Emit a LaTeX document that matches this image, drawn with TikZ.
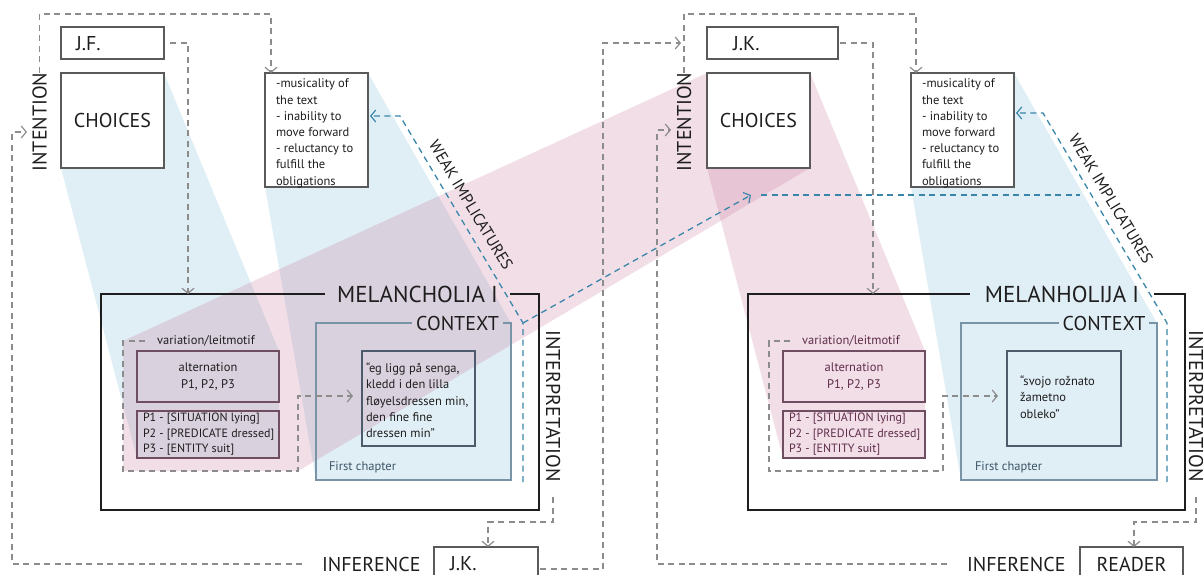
\documentclass[tikz,border=0pt]{standalone}
\usepackage{fontspec}
\setmainfont{PT Sans}
\usetikzlibrary{arrows.meta,backgrounds}

\definecolor{dashgray}{HTML}{8C8C8C}
\definecolor{boxline}{HTML}{5A5A5A}
\definecolor{implblue}{HTML}{3A86AA}
\definecolor{ctxline}{HTML}{7894A6}
\definecolor{quoteline}{HTML}{4C5C6C}
\definecolor{altline}{HTML}{6E4E60}
\definecolor{frameline}{HTML}{1E1E1E}
\definecolor{bandblue}{RGB}{110,175,210}
\definecolor{bandpink}{RGB}{200,120,155}
\definecolor{ink}{HTML}{1E1E1E}
\definecolor{mauveink}{HTML}{5E2C4A}
\definecolor{chapterink}{HTML}{3C5466}

\newcommand{\dgHead}{\fontsize{20}{24}\selectfont}
\newcommand{\dgTitle}{\fontsize{23}{27}\selectfont}
\newcommand{\dgBody}{\fontsize{12.5}{16.2}\selectfont}
\newcommand{\dgList}{\fontsize{12}{15.5}\selectfont}
\newcommand{\dgSlant}{\fontsize{16}{19}\selectfont}

\tikzset{
  every node/.style={inner sep=0pt, outer sep=0pt, text=ink},
  flowdash/.style={draw=dashgray, line width=1.2pt, dash pattern=on 6pt off 4.5pt},
  impldash/.style={draw=implblue, line width=1.3pt, dash pattern=on 6pt off 4.5pt},
  barbtip/.style={-{Straight Barb[length=5pt,width=12pt,line width=1.2pt]}},
  whitebox/.style={draw=boxline, line width=1.1pt, fill=white},
  quotebox/.style={draw=quoteline, line width=1.1pt},
  altbox/.style={draw=altline, line width=1.1pt},
  region/.style={draw=none},
  framepath/.style={draw=frameline, line width=1.7pt},
  ctxpath/.style={draw=ctxline, line width=1.1pt},
  bluesheet/.style={fill=bandblue, fill opacity=0.21},
  pinksheet/.style={fill=bandpink, fill opacity=0.245},
}

\begin{document}
\begin{tikzpicture}[x=1pt,y=-1pt]
\useasboundingbox (0,0) rectangle (1203,574);

% ================= left half: author J.F. =================
\node[whitebox, minimum width=103pt, minimum height=32pt] (jfL) at (112.5,43) {};
\node[anchor=west, font=\dgHead] (jfLtext) at (76,44) {J.F.};
\node[whitebox, minimum width=103pt, minimum height=95pt, font=\dgHead] (choL) at (112.5,120.5) {CHOICES};
\node[font=\dgHead, rotate=90] (intL) at (39.5,122) {INTENTION};

\node[whitebox, minimum width=103pt, minimum height=114pt] (weakL) at (316.5,130) {};
\node[anchor=north west, align=left, font=\dgBody] (weakLtext) at (276,79)
  {-musicality of\\the text\\- inability to\\move forward\\- reluctancy to\\fulfill the\\obligations};

% work frame
\node[region, minimum width=438pt, minimum height=216pt] (frameL) at (320,402) {};
\node[font=\dgTitle, inner xsep=12pt] (melL) at (417.5,294) {MELANCHOLIA I};
\draw[framepath] (melL.west) -- (frameL.north west) -- (frameL.south west)
  -- (frameL.south east) -- (frameL.north east) -- (melL.east);

% context
\node[region, minimum width=195pt, minimum height=157pt] (ctxL) at (413.5,401.5) {};
\node[font=\dgHead, inner xsep=4pt] (ctxLtitle) at (457.5,323) {CONTEXT};
\draw[ctxpath] (ctxLtitle.west) -- (ctxL.north west) -- (ctxL.south west)
  -- (ctxL.south east) -- (ctxL.north east) -- (ctxLtitle.east);
\node[quotebox, minimum width=113pt, minimum height=95pt] (quoteL) at (418.5,398.5) {};
\node[anchor=north west, align=left, font=\dgBody] (quoteLtext) at (366,363)
  {“eg ligg på senga,\\kledd i den lilla\\fløyelsdressen min,\\den fine fine\\dressen min”};
\node[anchor=west, font=\dgBody, text=chapterink] (chapL) at (329,467) {First chapter};

% variation / leitmotif
\node[region, minimum width=175pt, minimum height=130pt] (varL) at (210.5,406) {};
\node[font=\dgBody, inner xsep=12pt] (varLtitle) at (206,341) {variation/leitmotif};
\node[altbox, minimum width=142pt, minimum height=51pt, align=center, font=\dgBody] (altL) at (208,376.5) {alternation\\P1, P2, P3};
\node[altbox, minimum width=142pt, minimum height=47pt] (pL) at (208,434.5) {};
\node[anchor=north west, align=left, font=\dgList] (pLtext) at (143,413)
  {P1 - [SITUATION lying]\\P2 - [PREDICATE dressed]\\P3 - [ENTITY suit]};
\coordinate (varLturn) at (298,396);
\draw[flowdash, barbtip, shorten >=9pt] (varLtitle.west) -- (varL.north west) -- (varL.south west)
  -- (varL.south east) -- (varLturn) -- (varLturn -| quoteL.west);

\node[font=\dgHead, rotate=-90] (intpL) at (553,406) {INTERPRETATION};
\node[font=\dgSlant, rotate=-59] (wiL) at (471,205) {WEAK IMPLICATURES};

% reception by the translator
\node[font=\dgHead, anchor=west] (infL) at (322,564) {INFERENCE};
\node[whitebox, minimum width=104pt, minimum height=44pt] (jkB) at (486,569) {};
\node[font=\dgHead, anchor=west] (jkBtext) at (450,564) {J.K.};

% ================= right half: translator J.K. =================
\node[whitebox, minimum width=131pt, minimum height=32pt] (jkR) at (772.5,43) {};
\node[anchor=west, font=\dgHead] (jkRtext) at (733,44) {J.K.};
\node[whitebox, minimum width=103pt, minimum height=95pt, font=\dgHead] (choR) at (758.5,120.5) {CHOICES};
\node[font=\dgHead, rotate=90] (intR) at (684,122) {INTENTION};

\node[whitebox, minimum width=103pt, minimum height=114pt] (weakR) at (962.5,130) {};
\node[anchor=north west, align=left, font=\dgBody] (weakRtext) at (922,79)
  {-musicality of\\the text\\- inability to\\move forward\\- reluctancy to\\fulfill the\\obligations};

\node[region, minimum width=437pt, minimum height=216pt] (frameR) at (966.5,402) {};
\node[font=\dgTitle, inner xsep=15pt] (melR) at (1062,294) {MELANHOLIJA I};
\draw[framepath] (melR.west) -- (frameR.north west) -- (frameR.south west)
  -- (frameR.south east) -- (frameR.north east) -- (melR.east);

\node[region, minimum width=196pt, minimum height=157pt] (ctxR) at (1059,401.5) {};
\node[font=\dgHead, inner xsep=4pt] (ctxRtitle) at (1104,323) {CONTEXT};
\draw[ctxpath] (ctxRtitle.west) -- (ctxR.north west) -- (ctxR.south west)
  -- (ctxR.south east) -- (ctxR.north east) -- (ctxRtitle.east);
\node[quotebox, minimum width=114pt, minimum height=95pt] (quoteR) at (1064,398.5) {};
\node[anchor=north west, align=left, font=\dgBody] (quoteRtext) at (1020,376)
  {“svojo rožnato\\žametno\\obleko”};
\node[anchor=west, font=\dgBody, text=chapterink] (chapR) at (975,467) {First chapter};

\node[region, minimum width=174pt, minimum height=130pt] (varR) at (856,406) {};
\node[font=\dgBody, inner xsep=12pt, text=mauveink] (varRtitle) at (851,341) {variation/leitmotif};
\node[altbox, minimum width=142pt, minimum height=51pt, align=center, font=\dgBody, text=mauveink] (altR) at (854,376.5) {alternation\\P1, P2, P3};
\node[altbox, minimum width=142pt, minimum height=47pt] (pR) at (854,434.5) {};
\node[anchor=north west, align=left, font=\dgList, text=mauveink] (pRtext) at (789,413)
  {P1 - [SITUATION lying]\\P2 - [PREDICATE dressed]\\P3 - [ENTITY suit]};
\coordinate (varRturn) at (943,396);
\draw[flowdash, barbtip, shorten >=9pt] (varRtitle.west) -- (varR.north west) -- (varR.south west)
  -- (varR.south east) -- (varRturn) -- (varRturn -| quoteR.west);

\node[font=\dgHead, rotate=-90] (intpR) at (1196,406) {INTERPRETATION};
\node[font=\dgSlant, rotate=-59] (wiR) at (1111,199) {WEAK IMPLICATURES};

\node[font=\dgHead, anchor=west] (infR) at (967,564) {INFERENCE};
\node[whitebox, minimum width=103pt, minimum height=44pt] (readerB) at (1131.5,569) {};
\node[font=\dgHead] (readerText) at (1131.5,564) {READER};

% ================= translucent projection bands =================
\begin{scope}[on background layer]
  \fill[bluesheet] (choL.north west) -- (choL.north east) -- (altL.north east) -- (pL.south east)
    -- (pL.south west) -- (choL.south west) -- cycle;
  \fill[bluesheet] (weakL.north west) -- (weakL.north east) -- (ctxL.north east) -- (ctxL.south east)
    -- (ctxL.south west) -- (weakL.south west) -- cycle;
  \fill[pinksheet] (choR.north west) -- (choR.north east) -- (choR.south east) -- (varL.south east)
    -- (varL.south west) -- (varL.north west) -- cycle;
  \fill[pinksheet] (choR.north west) -- (choR.north east) -- (altR.north east) -- (pR.south east)
    -- (pR.south west) -- (choR.south west) -- cycle;
  \fill[bluesheet] (weakR.north west) -- (weakR.north east) -- (ctxR.north east) -- (ctxR.south east)
    -- (ctxR.south west) -- (weakR.south west) -- cycle;
\end{scope}

% ================= grey flow connectors =================
\coordinate (topL) at (271,14);
\draw[flowdash, barbtip] (intL.east) |- (topL) -- (topL |- weakL.north);
\coordinate (dropL) at (188,294);
\draw[flowdash, barbtip, shorten <=6pt] (jfL.east) -| (dropL);
\coordinate (loopL) at (12,132);
\coordinate (intLtip) at (27,132);
\draw[flowdash, barbtip, shorten <=20pt] (infL.west) -| (loopL) -- (intLtip);
\coordinate (turnL) at (488,522);
\draw[flowdash, barbtip, shorten <=16pt] (intpL.east) |- (turnL) -- (turnL |- jkB.north);
\coordinate (riseR) at (603,43);
\coordinate (loopTipR) at (681,43);
\draw[flowdash, barbtip, shorten <=2pt] (jkB.east) -| (riseR) -- (loopTipR);

\coordinate (topR) at (916,14);
\draw[flowdash, barbtip] (intR.east) |- (topR) -- (topR |- weakR.north);
\coordinate (dropR) at (873,294);
\draw[flowdash, barbtip, shorten <=2pt] (jkR.east) -| (dropR);
\coordinate (loopR) at (657,130);
\coordinate (intRtip) at (671,130);
\draw[flowdash, barbtip, shorten <=20pt] (infR.west) -| (loopR) -- (intRtip);
\coordinate (turnR) at (1134,522);
\draw[flowdash, barbtip, shorten <=16pt] (intpR.east) |- (turnR) -- (turnR |- readerB.north);

% ================= weak implicature connectors =================
\coordinate (wkLbend) at (400,116);
\coordinate (wkLknee) at (523,323);
\coordinate (wkLfoot) at (523,482);
\draw[impldash, barbtip, shorten >=2pt] (wkLfoot) -- (wkLknee) -- (wkLbend) -- (wkLbend -| weakL.east);
\coordinate (crossTip) at (751,195);
\draw[impldash, barbtip] (wkLknee) -- (crossTip);
\coordinate (crossA) at (761,195);
\coordinate (crossB) at (1080,195);
\draw[impldash] (crossA) -- (crossB);

\coordinate (wkRbend) at (1043,113);
\coordinate (wkRknee) at (1167,323);
\coordinate (wkRfoot) at (1167,482);
\draw[impldash, barbtip, shorten >=2pt] (wkRfoot) -- (wkRknee) -- (wkRbend) -- (wkRbend -| weakR.east);

\end{tikzpicture}
\end{document}
